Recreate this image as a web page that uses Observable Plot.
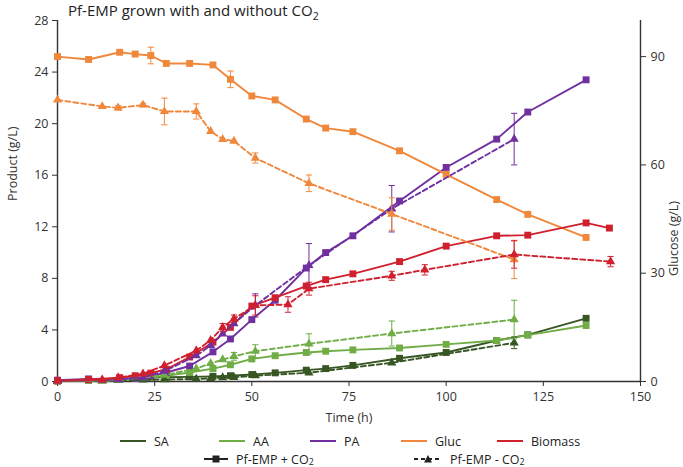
<!DOCTYPE html>
<html><head><meta charset="utf-8">
<script src="https://cdn.jsdelivr.net/npm/d3@7"></script>
<script src="https://cdn.jsdelivr.net/npm/@observablehq/plot@0.6"></script>
<style>
body{margin:0;background:#fff;font-family:"Open Sans",sans-serif;}
#wrap{position:relative;width:683px;height:467px;overflow:hidden}
#title{position:absolute;left:68px;top:1px;font-size:15px;line-height:18px;color:#222;white-space:nowrap}
.leg{position:absolute;font-size:12.5px;color:#222;display:flex;align-items:center;white-space:nowrap;height:16px}
.leg svg{margin-right:8px}
.sb{font-size:0.7em;position:relative;top:0.35em}
</style></head><body><div id="wrap"><div id="title">Pf-EMP grown with and without CO<span class="sb">2</span></div></div>
<script>
// ---- data ----
const tPlus = [0, 8, 16, 20, 24, 28, 34, 40, 44.5, 50, 56, 64, 69, 76, 88, 100, 113, 121, 136];
const tPlusBio = [0, 8, 16, 20, 24, 28, 34, 40, 44.5, 50, 56, 64, 69, 76, 88, 100, 113, 121, 136, 142];
const tMinus = [0, 11.5, 15.6, 22, 27.5, 35.7, 39.4, 42.5, 45.4, 50.9, 64.7, 86, 117.5];
const tMinusBio = [0, 11.5, 15.6, 22, 27.5, 35.7, 39.4, 42.5, 45.4, 50.9, 59.3, 64.7, 86, 94.5, 117.5, 142.3];

const saPlus = [0.05,0.1,0.2,0.25,0.3,0.33,0.36,0.4,0.45,0.54,0.67,0.88,1.0,1.25,1.8,2.25,3.18,3.62,4.9];
const aaPlus = [0.05,0.1,0.2,0.25,0.3,0.45,0.7,1.0,1.3,1.75,2.0,2.25,2.35,2.45,2.6,2.88,3.18,3.6,4.34];
const paPlus = [0.1,0.2,0.2,0.25,0.4,0.7,1.2,2.3,3.3,4.8,6.3,8.8,10.0,11.3,14.0,16.6,18.8,20.9,23.4];
const glucPlus = [90.0,89.2,91.2,90.7,90.3,88.1,88.1,87.7,83.7,79.1,78.0,72.7,70.2,69.2,63.9,57.4,50.4,46.3,39.9];
const bioPlus = [0.05,0.15,0.3,0.45,0.65,0.95,1.9,3.05,4.2,5.85,6.5,7.4,7.9,8.35,9.3,10.5,11.3,11.35,12.3,11.9];

const saMinus = [0.02,0.05,0.08,0.12,0.15,0.2,0.25,0.3,0.33,0.45,0.68,1.45,3.0];
const aaMinus = [0.03,0.05,0.1,0.3,0.5,1.0,1.4,1.7,1.95,2.35,2.92,3.72,4.8];
const paMinus = [0.05,0.1,0.15,0.3,0.8,2.0,2.8,3.7,4.5,5.9,9.0,13.4,18.8];
const glucMinus = [78.0,76.2,75.8,76.6,74.8,74.8,69.3,67.1,66.6,61.9,54.9,46.4,33.8];
const bioMinus = [0.05,0.13,0.3,0.6,1.24,2.4,3.2,4.2,4.86,5.9,5.97,7.2,8.2,8.66,9.85,9.3];

// error bars (+/-), 0 = none
const glucPlusErr = [0,0,0,0,2.3,0,0,0,2.3,0,0,0,0,0,0,0,0,0,0];
const glucMinusErr = [0,0,0.6,0.5,3.7,2.1,0,0,0,1.4,2.3,4.5,5.3];
const paMinusErr = [0,0,0,0,0,0,0,0,0,0.9,1.7,1.8,2.0];
const aaMinusErr = [0,0,0,0,0,0,0,0,0.3,0.5,0.78,0.97,1.5];
const saMinusErr = [0,0,0,0,0,0,0,0,0,0,0,0,0.45];
const bioMinusErr = [0,0,0,0,0,0,0,0.3,0.3,0.75,0.6,0.5,0.35,0.4,1.06,0.4];

const xTicks = [0,25,50,75,100,125,150];
const yTicks = [0,4,8,12,16,20,24,28];
const glucTicks = [0,30,60,90];
const yMax = 28, glucMax = 100;

const colors = {SA:"#375623", AA:"#70AD47", PA:"#7030A0", Gluc:"#F0883C", Biomass:"#D0202E"};
const legendNames = ["SA","AA","PA","Gluc","Biomass"];

// ---- build ----
const k = yMax / glucMax; // glucose -> left-axis units
function series(t, v, e, name, cond, scale=1) {
  return t.map((tt,i)=>({t:tt, v:v[i]*scale, e:(e? e[i]:0)*scale, name, cond}));
}
const all = [
  series(tPlus, saPlus, null, "SA", "+"),
  series(tPlus, aaPlus, null, "AA", "+"),
  series(tPlus, paPlus, null, "PA", "+"),
  series(tPlus, glucPlus, glucPlusErr, "Gluc", "+", k),
  series(tPlusBio, bioPlus, null, "Biomass", "+"),
  series(tMinus, saMinus, saMinusErr, "SA", "-"),
  series(tMinus, aaMinus, aaMinusErr, "AA", "-"),
  series(tMinus, paMinus, paMinusErr, "PA", "-"),
  series(tMinus, glucMinus, glucMinusErr, "Gluc", "-", k),
  series(tMinusBio, bioMinus, bioMinusErr, "Biomass", "-")
];

const marks = [];
for (const s of all) {
  const c = colors[s[0].name];
  const dashed = s[0].cond === "-";
  marks.push(Plot.line(s, {x:"t", y:"v", stroke:c, strokeWidth:1.9, strokeDasharray: dashed ? "5,3" : null}));
  const errs = s.filter(d=>d.e>0);
  marks.push(Plot.ruleX(errs, {x:"t", y1:d=>d.v-d.e, y2:d=>d.v+d.e, stroke:c, strokeWidth:1}));
  marks.push(Plot.link(errs, {x1:d=>d.t-0.8, x2:d=>d.t+0.8, y1:d=>d.v+d.e, y2:d=>d.v+d.e, stroke:c, strokeWidth:1}));
  marks.push(Plot.link(errs, {x1:d=>d.t-0.8, x2:d=>d.t+0.8, y1:d=>d.v-d.e, y2:d=>d.v-d.e, stroke:c, strokeWidth:1}));
  marks.push(Plot.dot(s, {x:"t", y:"v", symbol: dashed ? "triangle" : "square", fill:c, stroke:"none", r: dashed ? 3.4 : 3.9}));
}

const chart = Plot.plot({
  width: 683, height: 432,
  marginLeft: 57, marginRight: 43, marginTop: 20, marginBottom: 51,
  style: {fontFamily: "Open Sans, sans-serif", fontSize: "12.5px", color: "#333", background: "transparent"},
  x: {domain: [0,150]},
  y: {domain: [0,yMax]},
  marks: [
    Plot.axisX({ticks: xTicks, tickSize: 5, tickPadding: 6, label: null, fontSize: 12.5}),
    Plot.axisY({anchor: "left", ticks: yTicks, tickSize: 5, tickPadding: 4, label: null, fontSize: 12.5}),
    Plot.axisY({anchor: "right", ticks: glucTicks.map(g=>g*k), tickFormat: v=>String(Math.round(v/k)), tickSize: 5, tickPadding: 5, label: null, fontSize: 12.5}),
    Plot.ruleY([0], {stroke:"#333", strokeWidth:1.4}),
    Plot.ruleX([0], {stroke:"#333", strokeWidth:1.4}),
    Plot.ruleX([150], {stroke:"#333", strokeWidth:1.4}),
    Plot.text(["Product (g/L)"], {text:d=>d, frameAnchor:"left", dx:-45, rotate:-90, fontSize:12.5, fill:"#333"}),
    Plot.text(["Glucose (g/L)"], {text:d=>d, frameAnchor:"right", dx:33, rotate:-90, fontSize:12.5, fill:"#333"}),
    Plot.text(["Time (h)"], {text:d=>d, frameAnchor:"bottom", dy:40, fontSize:12.5, fill:"#333"}),
    ...marks
  ]
});
const wrap = document.getElementById("wrap");
wrap.insertBefore(chart, wrap.firstChild);
chart.style.position = "absolute"; chart.style.left = "0"; chart.style.top = "0";

// ---- legend ----
const leg1X = [120, 219, 310, 401, 497];
legendNames.forEach((n,i)=>{
  const d = document.createElement("div");
  d.className = "leg";
  d.style.left = leg1X[i] + "px"; d.style.top = "433px";
  d.innerHTML = `<svg width="26" height="10"><line x1="0" x2="26" y1="5" y2="5" stroke="${colors[n]}" stroke-width="2"/></svg>${n}`;
  wrap.appendChild(d);
});
const l2 = [
  {x:204, html:`<svg width="24" height="10"><line x1="0" x2="24" y1="5" y2="5" stroke="#222" stroke-width="2"/><rect x="8.5" y="1.5" width="7" height="7" fill="#222"/></svg>Pf-EMP + CO<span class="sb">2</span>`},
  {x:414, html:`<svg width="28" height="10"><line x1="0" x2="28" y1="5" y2="5" stroke="#222" stroke-width="2" stroke-dasharray="4,3"/><path d="M14,1 L18,8.5 L10,8.5 Z" fill="#222"/></svg>Pf-EMP - CO<span class="sb">2</span>`}
];
l2.forEach(o=>{
  const d = document.createElement("div");
  d.className = "leg";
  d.style.left = o.x + "px"; d.style.top = "451px";
  d.innerHTML = o.html;
  wrap.appendChild(d);
});
</script></body></html>
